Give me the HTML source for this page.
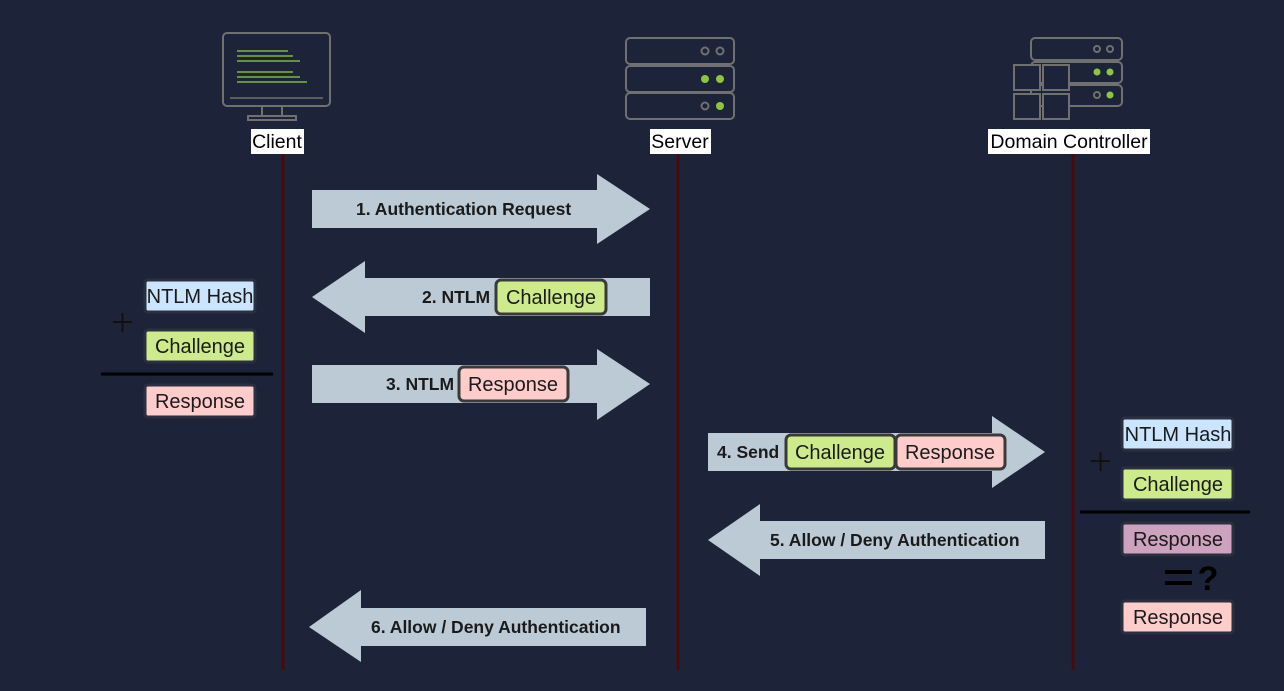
<!DOCTYPE html>
<html><head><style>
html,body{margin:0;padding:0;background:#1d2439;}
svg{display:block}
text{font-family:"Liberation Sans",sans-serif;}
</style></head><body>
<svg width="1284" height="691" viewBox="0 0 1284 691" xmlns="http://www.w3.org/2000/svg">
<rect width="1284" height="691" fill="#1d2439"/>
<g stroke="#4a0a0a" stroke-width="3">
<line x1="283" y1="154" x2="283" y2="670"/>
<line x1="678" y1="154" x2="678" y2="670"/>
<line x1="1073" y1="154" x2="1073" y2="670"/>
</g>
<g fill="none" stroke="#707070" stroke-width="2">
<rect x="223" y="33" width="107" height="73" rx="4"/>
<line x1="230" y1="98" x2="323" y2="98" stroke-width="1.5"/>
<rect x="262" y="106" width="20" height="10"/>
<rect x="248" y="116" width="48" height="4"/>
</g>
<g stroke="#7fb83a" stroke-width="1.5">
<line x1="237" y1="51" x2="288" y2="51"/><line x1="237" y1="56" x2="293" y2="56"/><line x1="237" y1="61" x2="300" y2="61"/>
<line x1="237" y1="72" x2="293" y2="72"/><line x1="237" y1="77" x2="300" y2="77"/><line x1="237" y1="82" x2="307" y2="82"/>
</g>
<g fill="none" stroke="#707070" stroke-width="2">
<rect x="626" y="38" width="108" height="26" rx="4"/>
<rect x="626" y="66" width="108" height="26" rx="4"/>
<rect x="626" y="93" width="108" height="26" rx="4"/>
<circle cx="705" cy="51" r="3.5"/><circle cx="720" cy="51" r="3.5"/>
<circle cx="705" cy="106" r="3.5"/>
</g>
<g fill="#8cc63f"><circle cx="705" cy="79" r="4"/><circle cx="720" cy="79" r="4"/><circle cx="720" cy="106" r="4"/></g>
<g fill="none" stroke="#707070" stroke-width="2">
<rect x="1031" y="38" width="91" height="22" rx="4"/>
<rect x="1031" y="62" width="91" height="21" rx="4"/>
<rect x="1031" y="85" width="91" height="21" rx="4"/>
<circle cx="1097" cy="49" r="3"/><circle cx="1110" cy="49" r="3"/><circle cx="1097" cy="95" r="3"/>
</g>
<g fill="#1d2439" stroke="#707070" stroke-width="2">
<rect x="1014" y="65" width="26" height="25"/><rect x="1043" y="65" width="26" height="25"/>
<rect x="1014" y="94" width="26" height="25"/><rect x="1043" y="94" width="26" height="25"/>
</g>
<g fill="#8cc63f"><circle cx="1097" cy="72" r="3.5"/><circle cx="1110" cy="72" r="3.5"/><circle cx="1110" cy="95" r="3.5"/></g>
<g fill="#fff"><rect x="251" y="129" width="53" height="25"/><rect x="650" y="129" width="61" height="25"/><rect x="988" y="129" width="162" height="25"/></g>
<g font-size="19.5" fill="#000" text-anchor="middle">
<text x="277" y="148">Client</text><text x="680" y="148">Server</text><text x="1069" y="148">Domain Controller</text>
</g>
<g fill="#bccad5">
<polygon points="312,190 597,190 597,174 650,209 597,244 597,228 312,228"/>
<polygon points="312,297 365,261 365,278 650,278 650,316 365,316 365,333"/>
<polygon points="312,365 597,365 597,349 650,384 597,420 597,403 312,403"/>
<polygon points="708,433 992,433 992,416 1045,452 992,488 992,471 708,471"/>
<polygon points="708,540 760,504 760,521 1045,521 1045,559 760,559 760,576"/>
<polygon points="309,627 361,590 361,608 646,608 646,646 361,646 361,662"/>
</g>
<g font-size="17.5" font-weight="bold" fill="#1a1a1a">
<text x="356" y="215">1. Authentication Request</text>
<text x="422" y="303">2. NTLM</text>
<text x="386" y="390">3. NTLM</text>
<text x="717" y="458">4. Send</text>
<text x="770" y="546">5. Allow / Deny Authentication</text>
<text x="371" y="633">6. Allow / Deny Authentication</text>
</g>
<g stroke="#3a3a3a" stroke-width="3">
<rect x="496" y="280" width="110" height="34" rx="5" fill="#cdeb8b"/>
<rect x="459" y="367" width="109" height="34" rx="5" fill="#ffcccc"/>
<rect x="786" y="435" width="109" height="34" rx="5" fill="#cdeb8b"/>
<rect x="896" y="435" width="109" height="34" rx="5" fill="#ffcccc"/>
</g>
<g stroke="#2a3040" stroke-width="3">
<rect x="145" y="280" width="110" height="32" rx="3" fill="#cce5ff"/>
<rect x="145" y="330" width="110" height="32" rx="3" fill="#cdeb8b"/>
<rect x="145" y="385" width="110" height="32" rx="3" fill="#ffcccc"/>
<rect x="1122" y="418" width="111" height="32" rx="3" fill="#cce5ff"/>
<rect x="1122" y="468" width="111" height="32" rx="3" fill="#cdeb8b"/>
<rect x="1122" y="523" width="111" height="32" rx="3" fill="#cda2be"/>
<rect x="1122" y="601" width="111" height="32" rx="3" fill="#ffcccc"/>
</g>
<g stroke="#000" stroke-width="3">
<line x1="101" y1="374" x2="273" y2="374"/>
<line x1="1080" y1="512" x2="1250" y2="512"/>
</g>
<g font-size="20" fill="#1a1a1a" text-anchor="middle">
<text x="551" y="304">Challenge</text>
<text x="513" y="391">Response</text>
<text x="840" y="459">Challenge</text>
<text x="950" y="459">Response</text>
<text x="200" y="303">NTLM Hash</text>
<text x="200" y="353">Challenge</text>
<text x="200" y="408">Response</text>
<text x="1178" y="441">NTLM Hash</text>
<text x="1178" y="491">Challenge</text>
<text x="1178" y="546">Response</text>
<text x="1178" y="624">Response</text>
</g>
<g stroke="#111" stroke-width="2">
<line x1="113" y1="322" x2="132" y2="322"/><line x1="122.5" y1="313" x2="122.5" y2="332"/>
<line x1="1091" y1="461" x2="1110" y2="461"/><line x1="1100.5" y1="452" x2="1100.5" y2="471"/>
</g>
<g stroke="#000" stroke-width="4">
<line x1="1165" y1="572" x2="1192" y2="572"/><line x1="1165" y1="583" x2="1192" y2="583"/>
</g>
<text x="1208" y="590" font-size="34" font-weight="bold" fill="#000" text-anchor="middle">?</text>
</svg>
</body></html>
